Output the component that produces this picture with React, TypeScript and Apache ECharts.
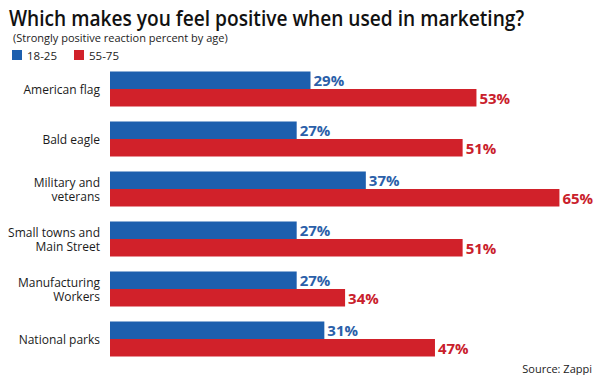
import React, { useEffect, useRef } from "react";
import * as echarts from "echarts";

const categories = [
  "American flag",
  "Bald eagle",
  "Military and\nveterans",
  "Small towns and\nMain Street",
  "Manufacturing\nWorkers",
  "National parks",
];
const young = [29, 27, 37, 27, 27, 31];
const older = [53, 51, 65, 51, 34, 47];
const seriesNames = ["18-25", "55-75"];

const BLUE = "#1d5fae";
const RED = "#d1212a";
const FONT = "'Open Sans', sans-serif";

export default function App() {
  const ref = useRef<HTMLDivElement>(null);

  useEffect(() => {
    document.body.style.margin = "0";
    if (!ref.current) return;
    const chart = echarts.init(ref.current, null, { renderer: "svg" });
    const label = (color: string) => ({
      show: true,
      position: "right" as const,
      distance: 3,
      formatter: "{c}%",
      color,
      fontFamily: FONT,
      fontWeight: "bold" as const,
      fontSize: 15,
    });
    chart.setOption({
      animation: false,
      backgroundColor: "#ffffff",
      textStyle: { fontFamily: FONT },
      graphic: [
        {
          // headline, slightly condensed
          type: "text",
          x: 9,
          y: 17,
          scaleX: 0.87,
          style: {
            text: "Which makes you feel positive when used in marketing?",
            font: `600 22px ${FONT}`,
            fill: "#111",
            verticalAlign: "middle",
          },
        },
      ],
      title: [
        {
          text: "(Strongly positive reaction percent by age)",
          left: 8,
          top: 27,
          textStyle: { fontFamily: FONT, fontSize: 11, fontWeight: "normal", color: "#222" },
        },
        {
          text: "Source: Zappi",
          right: 3,
          top: 358,
          textStyle: { fontFamily: FONT, fontSize: 11, fontWeight: "normal", color: "#222" },
        },
      ],
      legend: {
        left: 7,
        top: 44,
        icon: "rect",
        itemWidth: 10,
        itemHeight: 10,
        itemGap: 17,
        textStyle: { fontFamily: FONT, fontSize: 11.5, color: "#222", padding: [0, 0, 0, 0] },
        data: seriesNames,
      },
      grid: { left: 110, right: 6, top: 64, bottom: 11, containLabel: false },
      xAxis: {
        type: "value",
        min: 0,
        max: 70,
        show: false,
      },
      yAxis: {
        type: "category",
        data: categories,
        inverse: true,
        axisLine: { show: false },
        axisTick: { show: false },
        axisLabel: {
          margin: 10,
          fontFamily: FONT,
          fontSize: 12,
          color: "#1a1a1a",
          lineHeight: 14,
        },
      },
      series: [
        {
          name: seriesNames[0],
          type: "bar",
          data: young,
          barWidth: 17.5,
          barGap: "0%",
          itemStyle: { color: BLUE },
          label: label("#2b5fa9"),
        },
        {
          name: seriesNames[1],
          type: "bar",
          data: older,
          barWidth: 17.5,
          barGap: "0%",
          itemStyle: { color: RED },
          label: label("#c9202b"),
        },
      ],
    });
    return () => chart.dispose();
  }, []);

  return <div ref={ref} style={{ width: 600, height: 375 }} />;
}
